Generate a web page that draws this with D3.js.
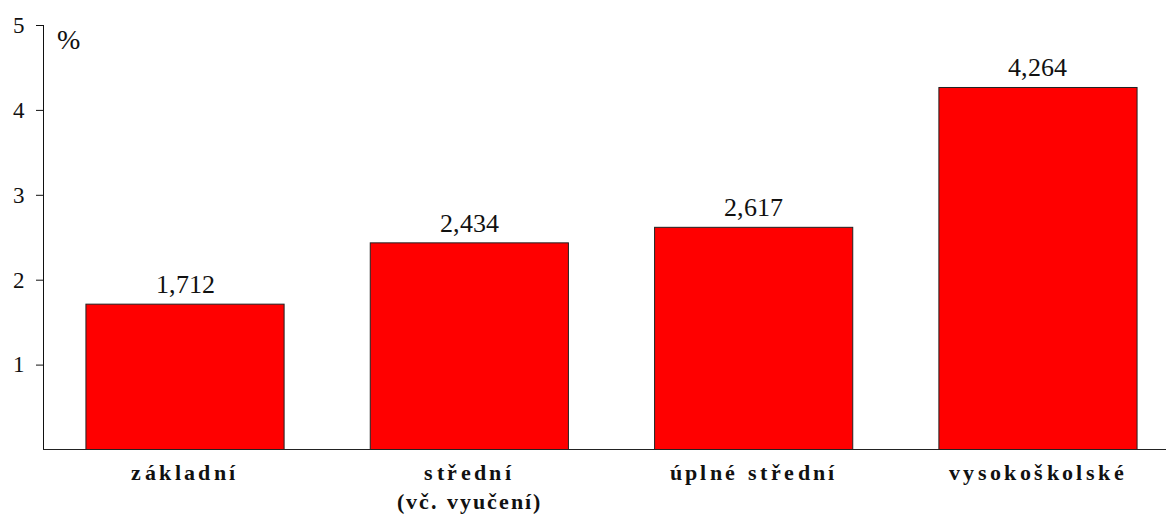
<!DOCTYPE html>
<html>
<head>
<meta charset="utf-8">
<script src="https://cdn.jsdelivr.net/npm/d3@7"></script>
<style>
  @font-face { font-family: "ChartSerif"; src: local("Liberation Serif"), local("LiberationSerif"); font-weight: normal; }
  @font-face { font-family: "ChartSerif"; src: local("Liberation Serif Bold"), local("LiberationSerif-Bold"); font-weight: bold; }
  body { margin: 0; background: #fff; }
  svg text { font-family: "ChartSerif", "Liberation Serif", "Times New Roman", serif !important; }
</style>
</head>
<body>
<svg id="chart" width="1166" height="516"></svg>
<script>
// education level -> share (%)
const categories = ["základní", "střední", "úplné střední", "vysokoškolské"];
const subLabels = ["", "(vč. vyučení)", "", ""];
const values = [1.712, 2.434, 2.617, 4.264];
const yTicks = [1, 2, 3, 4, 5];

const AXIS_X = 43;
const BASE_Y = 449.5;
const TOP_Y = 25;

const svg = d3.select("#chart");

const x = d3.scaleBand()
  .domain(categories)
  .range([AXIS_X, 1180])
  .paddingInner(0.303)
  .paddingOuter(0.151);

const y = d3.scaleLinear()
  .domain([0, 5])
  .range([BASE_Y, TOP_Y]);

// bars
svg.append("g")
  .selectAll("rect")
  .data(values)
  .join("rect")
  .attr("x", (d, i) => x(categories[i]))
  .attr("y", d => y(d))
  .attr("width", x.bandwidth())
  .attr("height", d => y(0) - y(d))
  .attr("fill", "#ff0000")
  .attr("stroke", "#222")
  .attr("stroke-width", 1);

// value labels
svg.selectAll("text.value")
  .data(values)
  .join("text")
  .attr("class", "value")
  .attr("x", (d, i) => x(categories[i]) + x.bandwidth() / 2)
  .attr("y", d => y(d) - 11)
  .attr("text-anchor", "middle")
  .attr("font-size", 26)
  .attr("fill", "#111")
  .text(d => d3.format(".3f")(d).replace(".", ","));

// y axis
const yAxis = svg.append("g")
  .attr("transform", `translate(${AXIS_X},0)`)
  .call(d3.axisLeft(y).tickValues(yTicks).tickFormat(d3.format("d"))
    .tickSize(7).tickPadding(11).tickSizeOuter(0));
yAxis.attr("font-family", null).attr("font-size", 23);
yAxis.select(".domain").attr("stroke", "#111").attr("d", `M0.5,${TOP_Y}V${BASE_Y}`);
yAxis.selectAll(".tick line").attr("stroke", "#111");
yAxis.selectAll(".tick text").attr("fill", "#111");

// x axis line
svg.append("line")
  .attr("x1", AXIS_X).attr("x2", 1166)
  .attr("y1", BASE_Y).attr("y2", BASE_Y)
  .attr("stroke", "#222")
  .attr("stroke-width", 1.2);

// category labels
categories.forEach((c, i) => {
  const cx = x(c) + x.bandwidth() / 2;
  svg.append("text")
    .attr("x", cx)
    .attr("y", 480)
    .attr("text-anchor", "middle")
    .attr("font-weight", "bold")
    .attr("font-size", 22)
    .attr("letter-spacing", 3.4)
    .attr("fill", "#111")
    .text(c);
  if (subLabels[i]) {
    svg.append("text")
      .attr("x", cx)
      .attr("y", 509)
      .attr("text-anchor", "middle")
      .attr("font-weight", "bold")
      .attr("font-size", 22)
      .attr("letter-spacing", 2)
      .attr("fill", "#111")
      .text(subLabels[i]);
  }
});

// unit
svg.append("text")
  .attr("x", 57)
  .attr("y", 49)
  .attr("font-size", 28)
  .attr("fill", "#111")
  .text("%");
</script>
</body>
</html>
